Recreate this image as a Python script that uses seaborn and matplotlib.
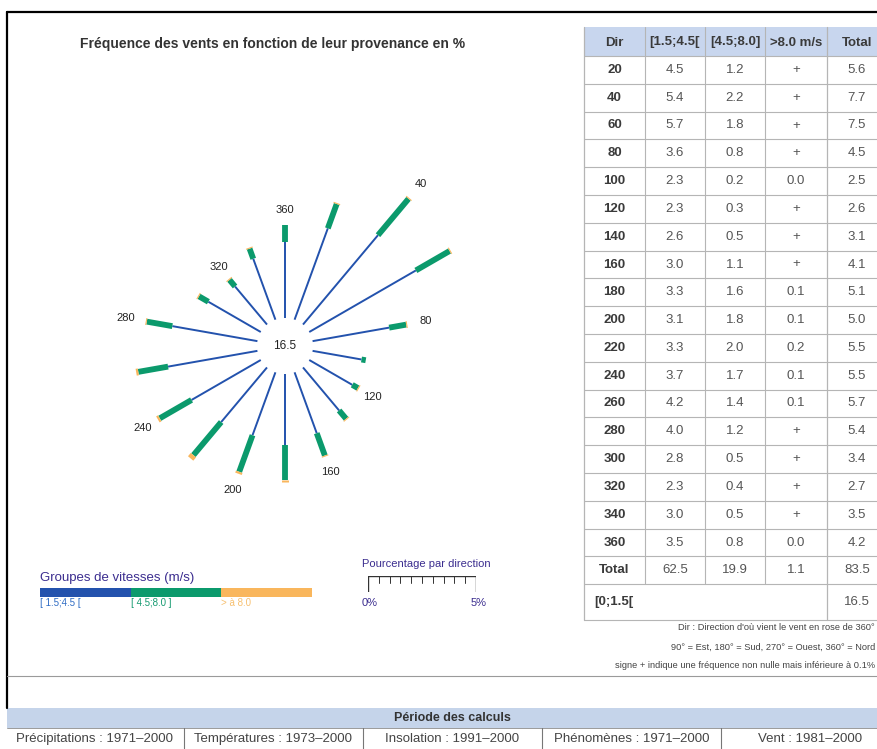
import numpy as np
import matplotlib
matplotlib.use('Agg')
import matplotlib.pyplot as plt
import seaborn as sns
from matplotlib.patches import Rectangle

sns.set_theme(style='white')
plt.rcParams['font.family'] = ['Liberation Sans', 'DejaVu Sans']

# ---- data ----
directions = [20, 40, 60, 80, 100, 120, 140, 160, 180, 200, 220, 240, 260, 280, 300, 320, 340, 360]
v_low = [4.5, 5.4, 5.7, 3.6, 2.3, 2.3, 2.6, 3.0, 3.3, 3.1, 3.3, 3.7, 4.2, 4.0, 2.8, 2.3, 3.0, 3.5]
v_mid = [1.2, 2.2, 1.8, 0.8, 0.2, 0.3, 0.5, 1.1, 1.6, 1.8, 2.0, 1.7, 1.4, 1.2, 0.5, 0.4, 0.5, 0.8]
v_high = ['+', '+', '+', '+', '0.0', '+', '+', '+', '0.1', '0.1', '0.2', '0.1', '0.1', '+', '+', '+', '+', '0.0']
v_total = [5.6, 7.7, 7.5, 4.5, 2.5, 2.6, 3.1, 4.1, 5.1, 5.0, 5.5, 5.5, 5.7, 5.4, 3.4, 2.7, 3.5, 4.2]
col_totals = ['62.5', '19.9', '1.1', '83.5']
calm = '16.5'
header = ['Dir', '[1.5;4.5[', '[4.5;8.0]', '>8.0 m/s', 'Total']
labelled = [40, 80, 120, 160, 200, 240, 280, 320, 360]
speed_groups = ['[ 1.5;4.5 [', '[ 4.5;8.0 ]', '> à 8.0']
periods = ['Précipitations : 1971–2000', 'Températures : 1973–2000', 'Insolation : 1991–2000',
           'Phénomènes : 1971–2000', 'Vent : 1981–2000']
notes = ["Dir : Direction d'où vient le vent en rose de 360°",
         "90° = Est, 180° = Sud, 270° = Ouest, 360° = Nord",
         "signe + indique une fréquence non nulle mais inférieure à 0.1%"]

c_blue, c_green, c_orange = '#2352ad', '#0b9a6c', '#f9b65c'
c_purple = '#3b2d8f'

W, H = 878, 749
fig = plt.figure(figsize=(W / 100, H / 100), dpi=100)
fig.patch.set_facecolor('white')


def px_axes(x0, y0, x1, y1):
    return fig.add_axes([x0 / W, 1 - y1 / H, (x1 - x0) / W, (y1 - y0) / H])


# page layer in pixel coords
page = fig.add_axes([0, 0, 1, 1])
page.set_xlim(0, W)
page.set_ylim(H, 0)
page.axis('off')

page.plot([7, 7], [12, 708], color='black', lw=1.6)
page.plot([7, W], [12, 12], color='black', lw=1.6)
page.plot([7, W], [676, 676], color='#9a9a9a', lw=0.8)
page.text(273, 44, 'Fréquence des vents en fonction de leur provenance en %',
          ha='center', va='center', fontsize=10, fontweight='bold', color='#333333')

# ---- table ----
col_x = [584, 645, 705, 765, 827, 887]
row_h = 27.8
y_head = (27, 56)
row_tops = [56 + row_h * i for i in range(len(directions) + 2)]
y_last = (row_tops[-1], 620)
page.add_patch(Rectangle((col_x[0], y_head[0]), col_x[-1] - col_x[0], y_head[1] - y_head[0],
                         color='#c8d6ee', lw=0))
grid_c = '#b5b5b5'
for y in row_tops + [y_last[1]]:
    page.plot([col_x[0], col_x[-1]], [y, y], color=grid_c, lw=0.8)
page.plot([col_x[0]] * 2, [y_head[0], y_last[1]], color=grid_c, lw=0.9)
page.plot([col_x[4]] * 2, [y_head[0], y_last[1]], color=grid_c, lw=0.9)
for x in col_x[1:4]:
    page.plot([x, x], [y_head[0], y_last[0]], color=grid_c, lw=0.8)

cx = [(col_x[i] + col_x[i + 1]) / 2 for i in range(5)]
for j, h in enumerate(header):
    page.text(cx[j], sum(y_head) / 2 + 1, h, ha='center', va='center', fontsize=9.5,
              fontweight='bold', color='#3a3a3a')
rows = [[str(d), f'{a:.1f}', f'{b:.1f}', c, f'{t:.1f}']
        for d, a, b, c, t in zip(directions, v_low, v_mid, v_high, v_total)]
rows.append(['Total'] + col_totals)
for i, r in enumerate(rows):
    yc = row_tops[i] + row_h / 2
    for j, val in enumerate(r):
        page.text(cx[j], yc, val, ha='center', va='center', fontsize=9.5,
                  fontweight='bold' if j == 0 else 'normal',
                  color='#3a3a3a' if j == 0 else '#555555')
yc = sum(y_last) / 2
page.text(col_x[0] + 10, yc, '[0;1.5[', ha='left', va='center', fontsize=9.5,
          fontweight='bold', color='#3a3a3a')
page.text(cx[4], yc, calm, ha='center', va='center', fontsize=9.5, color='#555555')
for t, y in zip(notes, [627, 647, 666]):
    page.text(875, y, t, ha='right', va='center', fontsize=6.7, color='#444444')

# ---- bottom band ----
page.add_patch(Rectangle((7, 708), W - 7, 20, color='#c5d4ea', lw=0))
page.plot([7, W], [728, 728], color='#8a8a8a', lw=0.6)
page.text(452, 718, 'Période des calculs', ha='center', va='center', fontsize=9,
          fontweight='bold', color='#333333')
cell_w = 179
for i, p in enumerate(periods):
    x0 = 5 + cell_w * i
    if i > 0:
        page.plot([x0, x0], [728, H], color='#777777', lw=0.8)
    page.text(x0 + cell_w / 2, 739, p, ha='center', va='center', fontsize=9.5, color='#444444')

# ---- legend ----
page.text(40, 578, 'Groupes de vitesses (m/s)', ha='left', va='center', fontsize=9.5, color=c_purple)
for i, (lab, c) in enumerate(zip(speed_groups, [c_blue, c_green, c_orange])):
    x0 = 40 + 90.7 * i
    page.add_patch(Rectangle((x0, 588), 90.7, 9, color=c, lw=0))
    page.text(x0, 603, lab, ha='left', va='center', fontsize=7,
              color=['#2f6cc4', '#159a70', '#f7c070'][i])

# ---- wind rose ----
k = 21.6            # px per percent
cx0, cy0 = 285, 346
r0 = 28 / k
rose = px_axes(10, 60, 570, 640)
rose.set_xlim((10 - cx0) / k, (570 - cx0) / k)
rose.set_ylim((cy0 - 640) / k, (cy0 - 60) / k)
rose.axis('off')
rose.patch.set_alpha(0)

high_num = [0.05 if v == '+' else float(v) for v in v_high]
for d, a, b, c, t in zip(directions, v_low, v_mid, high_num, v_total):
    th = np.deg2rad(d)
    ux, uy = np.sin(th), np.cos(th)
    r1, r2, r3 = r0 + a, r0 + a + b, r0 + a + b + c
    rose.plot([r0 * ux, r1 * ux], [r0 * uy, r1 * uy], color=c_blue, lw=1.4, solid_capstyle='butt')
    rose.plot([r1 * ux, r2 * ux], [r1 * uy, r2 * uy], color=c_green, lw=4.2, solid_capstyle='butt')
    if c > 0:
        rose.plot([r2 * ux, r3 * ux], [r2 * uy, r3 * uy], color=c_orange, lw=5, solid_capstyle='butt')
    if d in labelled:
        rl = r0 + t + 0.8
        rose.text(rl * ux, rl * uy, str(d), ha='center', va='center', fontsize=8, color='#222222')
rose.text(0, 0, calm, ha='center', va='center', fontsize=8.5, color='#222222')

# ---- scale ruler ----
page.text(362, 564, 'Pourcentage par direction', ha='left', va='center', fontsize=8, color=c_purple)
ruler = px_axes(368, 576, 368 + 5 * k, 592)
ruler.set_xlim(0, 5)
ruler.set_ylim(1, 0)
ruler.axis('off')
ruler.patch.set_alpha(0)
ruler.plot([0, 5], [0, 0], color='#333333', lw=1)
for tk in np.arange(0, 5.01, 0.5):
    ln = 1 if tk in (0, 5) else 0.45
    ruler.plot([tk, tk], [0, ln], color='#333333', lw=1 if tk in (0, 5) else 0.7)
page.text(362, 603, '0%', ha='left', va='center', fontsize=8, color=c_purple)
page.text(368 + 5 * k + 11, 603, '5%', ha='right', va='center', fontsize=8, color=c_purple)

fig.savefig('out.png', dpi=100)
